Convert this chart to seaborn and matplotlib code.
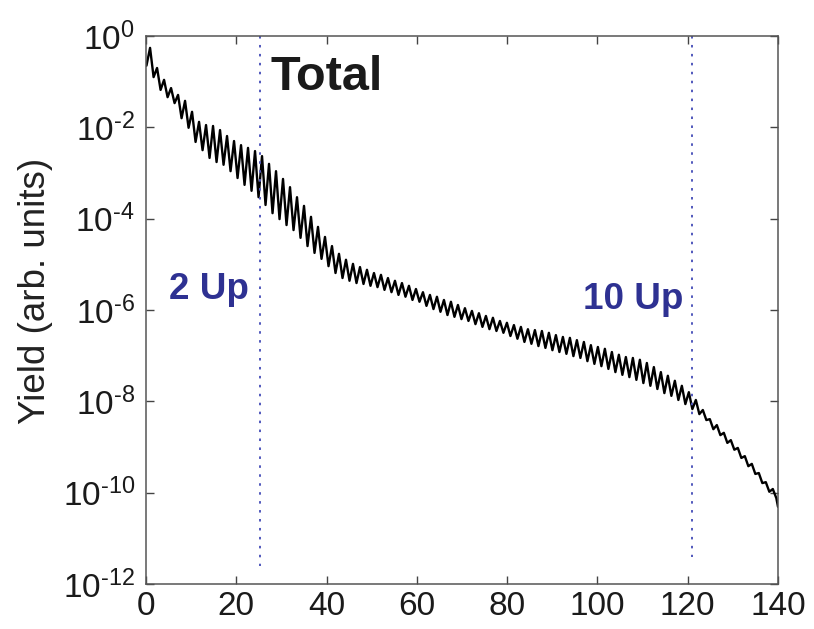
import numpy as np
import pandas as pd
import matplotlib
matplotlib.use("Agg")
import matplotlib.pyplot as plt
import seaborn as sns
from matplotlib.ticker import FixedLocator, FixedFormatter

# ---------------- data ----------------
# photon-energy positions of the oscillation maxima (eV)
peak_ev = [0.9, 2.45, 4.0, 5.55, 7.1, 8.65, 10.2, 11.75, 13.3, 14.85,
           16.4, 17.95, 19.5, 21.05, 22.6, 24.15, 25.7, 27.25, 28.8, 30.35,
           31.9, 33.45, 35.0, 36.55, 38.1, 39.65, 41.2, 42.75, 44.3, 45.85,
           47.4, 48.95, 50.5, 52.05, 53.6, 55.15, 56.7, 58.25, 59.8, 61.35,
           62.9, 64.45, 66.0, 67.55, 69.1, 70.65, 72.2, 73.75, 75.3, 76.85,
           78.4, 79.95, 81.5, 83.05, 84.6, 86.15, 87.7, 89.25, 90.8, 92.35,
           93.9, 95.45, 97.0, 98.55, 100.1, 101.65, 103.2, 104.75, 106.3, 107.85,
           109.4, 110.95, 112.5, 114.05, 115.6, 117.15, 118.7, 120.25, 121.8, 123.35,
           124.9, 126.45, 128.0, 129.55, 131.1, 132.65, 134.2, 135.75, 137.3, 138.85]
# photon-energy positions of the oscillation minima (eV)
trough_ev = [1.68, 3.23, 4.78, 6.33, 7.88, 9.43, 10.98, 12.53, 14.08, 15.63,
             17.18, 18.73, 20.28, 21.83, 23.38, 24.93, 26.48, 28.03, 29.58, 31.13,
             32.68, 34.23, 35.78, 37.33, 38.88, 40.43, 41.98, 43.53, 45.08, 46.63,
             48.18, 49.73, 51.28, 52.83, 54.38, 55.93, 57.48, 59.03, 60.58, 62.13,
             63.68, 65.23, 66.78, 68.33, 69.88, 71.43, 72.98, 74.53, 76.08, 77.63,
             79.18, 80.73, 82.28, 83.83, 85.38, 86.93, 88.48, 90.03, 91.58, 93.13,
             94.68, 96.23, 97.78, 99.33, 100.88, 102.43, 103.98, 105.53, 107.08, 108.63,
             110.18, 111.73, 113.28, 114.83, 116.38, 117.93, 119.48, 121.03, 122.58, 124.13,
             125.68, 127.23, 128.78, 130.33, 131.88, 133.43, 134.98, 136.53, 138.08, 139.63]
# log10(yield) at the maxima
peak_log = [-0.26, -0.70, -0.96, -1.14, -1.29, -1.42, -1.66, -1.88, -1.95, -1.97,
            -2.06, -2.19, -2.30, -2.39, -2.45, -2.52, -2.63, -2.80, -2.96, -3.13,
            -3.31, -3.53, -3.72, -3.96, -4.18, -4.40, -4.60, -4.77, -4.90, -4.99,
            -5.06, -5.12, -5.19, -5.23, -5.30, -5.36, -5.41, -5.47, -5.54, -5.61,
            -5.67, -5.71, -5.78, -5.82, -5.89, -5.96, -6.02, -6.07, -6.13, -6.17,
            -6.24, -6.28, -6.33, -6.37, -6.42, -6.44, -6.46, -6.50, -6.55, -6.59,
            -6.61, -6.66, -6.70, -6.77, -6.81, -6.85, -6.92, -6.98, -7.03, -7.05,
            -7.09, -7.16, -7.25, -7.36, -7.44, -7.55, -7.66, -7.80, -7.97, -8.19,
            -8.39, -8.52, -8.69, -8.85, -9.02, -9.20, -9.37, -9.57, -9.77, -9.92]
# log10(yield) at the minima
trough_log = [-0.90, -1.18, -1.34, -1.47, -1.80, -2.01, -2.32, -2.50, -2.67, -2.76,
              -2.82, -2.96, -3.11, -3.26, -3.39, -3.53, -3.70, -3.88, -4.01, -4.14,
              -4.25, -4.42, -4.60, -4.75, -4.88, -5.04, -5.19, -5.30, -5.36, -5.41,
              -5.43, -5.47, -5.50, -5.56, -5.61, -5.67, -5.71, -5.78, -5.82, -5.91,
              -5.98, -6.04, -6.11, -6.15, -6.20, -6.24, -6.31, -6.37, -6.42, -6.46,
              -6.50, -6.57, -6.63, -6.70, -6.74, -6.79, -6.83, -6.88, -6.92, -6.96,
              -7.01, -7.05, -7.12, -7.18, -7.23, -7.29, -7.36, -7.42, -7.47, -7.53,
              -7.60, -7.66, -7.73, -7.82, -7.88, -7.97, -8.06, -8.17, -8.28, -8.41,
              -8.61, -8.74, -8.91, -9.06, -9.24, -9.42, -9.59, -9.79, -9.98, -10.12]
start_point = (0.1, -0.65)
end_point = (140.0, -10.31)

marker_ev = [25.2, 121.0]           # 2 Up and 10 Up cutoff energies
marker_labels = ["2 Up", "10 Up"]
title_text = "Total"
ylabel_text = "Yield (arb. units)"
x_ticks = [0, 20, 40, 60, 80, 100, 120, 140]
y_tick_exps = [0, -2, -4, -6, -8, -10, -12]

# ---------------- build table ----------------
xs = [start_point[0]]
ls = [start_point[1]]
for pe, pl, te, tl in zip(peak_ev, peak_log, trough_ev, trough_log):
    xs += [pe, te]
    ls += [pl, tl]
xs.append(end_point[0])
ls.append(end_point[1])
df = pd.DataFrame({"energy": xs, "yield": np.power(10.0, ls)})

# ---------------- style ----------------
sns.set_style("ticks")
plt.rcParams["font.family"] = ["Liberation Sans", "DejaVu Sans"]
plt.rcParams["mathtext.fontset"] = "custom"
plt.rcParams["mathtext.rm"] = "Liberation Sans"
plt.rcParams["mathtext.it"] = "Liberation Sans:italic"
plt.rcParams["mathtext.bf"] = "Liberation Sans:bold"

fig = plt.figure(figsize=(8.14, 6.29), dpi=100)
ax = fig.add_axes([146 / 814, 1 - 584 / 629, (778 - 146) / 814, (584 - 36) / 629])

sns.lineplot(data=df, x="energy", y="yield", ax=ax, color="black",
             linewidth=1.7, estimator=None, sort=False)
ax.set_yscale("log")
ax.set_xlim(0, 140)
ax.set_ylim(1e-12, 1e0)

blue = "#2e3192"
dot_blue = "#5058bc"
for xe, ybot in zip(marker_ev, [10 ** -11.6, 10 ** -11.4]):
    ax.plot([xe, xe], [1e0, ybot], color=dot_blue, lw=1.4,
            linestyle=(0, (1.3, 3.3)))

ax.text(27.6, 10 ** -0.9, title_text, fontsize=35, fontweight="bold",
        color="#1a1a1a", ha="left", va="center")
ax.text(5.2, 10 ** -5.56, marker_labels[0], fontsize=26.5, fontweight="bold",
        color=blue, ha="left", va="center")
ax.text(96.8, 10 ** -5.78, marker_labels[1], fontsize=26.5, fontweight="bold",
        color=blue, ha="left", va="center")

hy = "\u2010"
ax.xaxis.set_major_locator(FixedLocator(x_ticks))
ax.xaxis.set_major_formatter(FixedFormatter([str(v) for v in x_ticks]))
ax.yaxis.set_major_locator(FixedLocator([10.0 ** e for e in y_tick_exps]))
ax.yaxis.set_major_formatter(FixedFormatter(
    [r"$\mathregular{10^{%s}}$" % (str(e).replace("-", hy)) for e in y_tick_exps]))
ax.yaxis.set_minor_locator(FixedLocator([]))

ax.tick_params(axis="both", which="major", direction="in", length=6, width=1.0,
               color="#444444", labelsize=24, labelcolor="#1a1a1a",
               top=True, right=True)
ax.tick_params(axis="x", pad=5)
ax.tick_params(axis="y", pad=8)
for s in ax.spines.values():
    s.set_color("#555555")
    s.set_linewidth(1.1)

ax.set_xlabel("")
ax.set_ylabel(ylabel_text, fontsize=26.5, color="#222222")
ax.yaxis.set_label_coords(-0.147, 0.535)

fig.savefig("out.png", dpi=100)
